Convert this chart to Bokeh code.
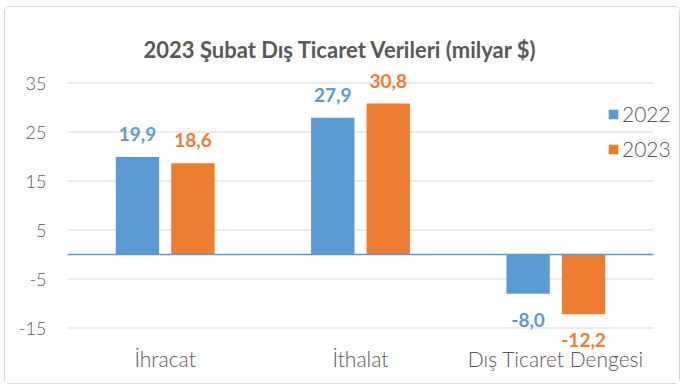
from bokeh.plotting import figure
from bokeh.models import FactorRange, Range1d, FixedTicker, Legend, LegendItem, ColumnDataSource
from bokeh.transform import dodge
from bokeh.core.properties import value
from bokeh.embed import file_html
from bokeh.resources import INLINE

categories = ["İhracat", "İthalat", "Dış Ticaret Dengesi"]
years = ["2022", "2023"]
values_2022 = [19.9, 27.9, -8.0]
values_2023 = [18.6, 30.8, -12.2]
y_ticks = [-15, -5, 5, 15, 25, 35]
title_text = "2023 Şubat Dış Ticaret Verileri (milyar $)"

BLUE = "#5B9BD5"
ORANGE = "#ED7D31"
TXT = "#595959"
FONT = "Lato"
LIGHT = "Lato Light"


def fmt(v):
    return f"{v:.1f}".replace(".", ",")


p = figure(width=676, height=378,
           x_range=FactorRange(*categories, range_padding=0.0973, range_padding_units="absolute"),
           y_range=Range1d(-20.2, 37.96),
           output_backend="svg", toolbar_location=None,
           min_border_left=43, min_border_right=9,
           min_border_top=61, min_border_bottom=32)
p.styles = {"border": "1px solid #d9d9d9", "border-radius": "5px",
            "margin-left": "4px", "margin-top": "6px"}
p.outline_line_color = None

p.title.text = title_text
p.title.align = "left"
p.title.offset = 95
p.title.standoff = 12
p.title.text_font = FONT
p.title.text_font_size = "22px"
p.title.text_font_style = "bold"
p.title.text_color = TXT

# horizontal grid lines spanning the category area
n = len(y_ticks)
grid_src = ColumnDataSource(dict(y=y_ticks, first=[categories[0]] * n, last=[categories[-1]] * n))
p.segment(x0=dodge("first", -0.5, range=p.x_range), x1=dodge("last", 0.5, range=p.x_range),
          y0="y", y1="y", source=grid_src, line_color="#D9D9D9", line_width=1.2)

series = [(years[0], values_2022, BLUE, -0.142), (years[1], values_2023, ORANGE, 0.142)]
items = []
for name, vals, col, off in series:
    src = ColumnDataSource(dict(cat=categories, val=vals))
    r = p.vbar(x=dodge("cat", off, range=p.x_range), top="val", bottom=0, width=0.222,
               source=src, fill_color=col, line_color=None)
    items.append(LegendItem(label=name, renderers=[r]))
    pos = ColumnDataSource(dict(cat=[c for c, v in zip(categories, vals) if v >= 0],
                                val=[v for v in vals if v >= 0],
                                lab=[fmt(v) for v in vals if v >= 0]))
    neg = ColumnDataSource(dict(cat=[c for c, v in zip(categories, vals) if v < 0],
                                val=[v for v in vals if v < 0],
                                lab=[fmt(v) for v in vals if v < 0]))
    for s, yo in ((pos, -23), (neg, 26)):
        p.text(x=dodge("cat", off, range=p.x_range), y="val", text="lab", source=s,
               text_align="center", text_baseline="alphabetic", y_offset=yo,
               text_font=value(FONT), text_font_style="bold", text_font_size="19px",
               text_color=col)

zero_src = ColumnDataSource(dict(y=[0], first=[categories[0]], last=[categories[-1]]))
p.segment(x0=dodge("first", -0.5, range=p.x_range), x1=dodge("last", 0.5, range=p.x_range),
          y0="y", y1="y", source=zero_src, line_color=BLUE, line_width=1.5)

p.xgrid.grid_line_color = None
p.ygrid.grid_line_color = None

p.yaxis.ticker = FixedTicker(ticks=y_ticks)
p.yaxis.major_label_overrides = {t: str(t) for t in y_ticks}
p.yaxis.axis_line_color = None
p.yaxis.major_tick_line_color = None
p.yaxis.minor_tick_line_color = None
p.yaxis.major_tick_out = 0
p.yaxis.major_label_standoff = 2
p.yaxis.major_label_text_font = LIGHT
p.yaxis.major_label_text_font_size = "18px"
p.yaxis.major_label_text_color = TXT

p.xaxis.axis_line_color = None
p.xaxis.major_tick_line_color = None
p.xaxis.major_tick_out = 0
p.xaxis.major_label_standoff = -8
p.xaxis.major_label_text_font = LIGHT
p.xaxis.major_label_text_font_size = "21px"
p.xaxis.major_label_text_color = TXT

legend = Legend(items=items, location=(559, 192), orientation="vertical",
                glyph_width=12, glyph_height=12, label_text_font=LIGHT,
                label_text_font_size="21px", label_text_color=TXT,
                label_standoff=3, spacing=10, padding=0, margin=0,
                border_line_color=None, background_fill_alpha=0)
p.add_layout(legend)

open("out.html", "w").write(file_html(p, INLINE))
